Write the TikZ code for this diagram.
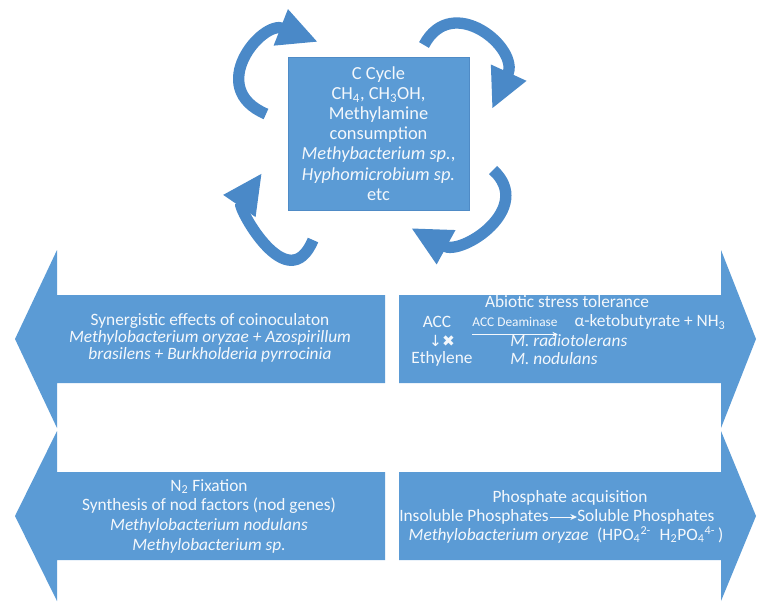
\documentclass[tikz,border=0pt]{standalone}
\usepackage{fontspec}
\setmainfont{Carlito}
\newfontfamily\symfont{DejaVu Sans}
\usetikzlibrary{arrows.meta}

\definecolor{boxblue}{HTML}{5B9BD5}
\definecolor{curlblue}{HTML}{4A89C8}
\definecolor{edgeblue}{HTML}{4F8BC6}
\definecolor{txtwhite}{HTML}{F4F8FC}

\tikzset{
  bigarrow/.style={fill=boxblue},
  curl/.style={draw=curlblue, line width=8.5pt, -{Triangle[length=30pt,width=27pt]}},
  lbl/.style={text=txtwhite, align=center, inner sep=0pt, font=\fontsize{13}{14.3}\selectfont},
  cbox/.style={draw=edgeblue, fill=boxblue, line width=0.6pt, minimum width=135.75pt, minimum height=114.75pt, text=txtwhite, align=center, inner sep=0pt, font=\fontsize{13.8}{15.1}\selectfont}
}

\begin{document}
\begin{tikzpicture}[x=0.75pt,y=-0.75pt]
\useasboundingbox (0,0) rectangle (759,601);

\fill[bigarrow] (385,295) -- (57,295) -- (57,250) -- (15,339) -- (57,428) -- (57,383) -- (385,383) -- cycle;
\fill[bigarrow] (385,472) -- (57,472) -- (57,431) -- (15,516) -- (57,601) -- (57,560) -- (385,560) -- cycle;
\fill[bigarrow] (399,295) -- (721,295) -- (721,250) -- (756,339) -- (721,428) -- (721,383) -- (399,383) -- cycle;
\fill[bigarrow] (399,472) -- (721,472) -- (721,431) -- (756,516) -- (721,601) -- (721,560) -- (399,560) -- cycle;

\node[cbox] (v1) at (378.5,133.5) {\rule{0pt}{5pt}C Cycle\\CH\textsubscript{4}, CH\textsubscript{3}OH,\\Methylamine\\consumption\\\textit{Methybacterium sp.},\\\textit{Hyphomicrobium sp.}\\etc};

\coordinate (t1) at (266,114);
\coordinate (h1) at (318,42);
\coordinate (t2) at (424,45);
\coordinate (h2) at (492,109);
\coordinate (t3) at (493,170);
\coordinate (h3) at (411,228);
\coordinate (t4) at (313,240);
\coordinate (h4) at (262,173);
\draw[curl] (t1) .. controls (205,88) and (262,20) .. (h1);
\draw[curl] (t2) .. controls (452,-8) and (520,48) .. (h2);
\draw[curl] (t3) .. controls (535,208) and (462,256) .. (h3);
\draw[curl] (t4) .. controls (288,300) and (238,208) .. (h4);

\node[lbl, font=\fontsize{13}{12.6}\selectfont] (v2) at (210,338) {Synergistic effects of coinoculaton\\\textit{Methylobacterium oryzae + Azospirillum}\\\textit{brasilens + Burkholderia pyrrocinia}};

\node[lbl] (v3) at (567,302) {Abiotic stress tolerance};
\node[lbl] (v4) at (437,322) {ACC};
\node[lbl, font=\fontsize{10}{11}\selectfont] (v5) at (515,322) {ACC Deaminase};
\node[lbl] (v6) at (650,322) {α-ketobutyrate + NH\textsubscript{3}};
\node[lbl, font=\fontsize{11.5}{13}\symfont] (v7) at (442,341) {↓✖};
\node[lbl, anchor=west] (v8) at (510,341) {\textit{M. radiotolerans}};
\node[lbl] (v9) at (442,359) {Ethylene};
\node[lbl, anchor=west] (v10) at (510,359) {\textit{M. nodulans}};
\draw[txtwhite, line width=0.5pt, -{Stealth[length=4pt,width=3.5pt]}] ([yshift=-5.5pt]v5.south west) -- ([yshift=-5.5pt]v5.south east);

\node[lbl, font=\fontsize{13}{14.8}\selectfont] (v11) at (209,516) {N\textsubscript{2} Fixation\\Synthesis of nod factors (nod genes)\\\textit{Methylobacterium nodulans}\\\textit{Methylobacterium sp.}};

\node[lbl] (v12) at (570,498) {Phosphate acquisition};
\node[lbl, anchor=east] (v13) at (549,517) {Insoluble Phosphates};
\node[lbl, anchor=west] (v14) at (577,517) {Soluble Phosphates};
\draw[txtwhite, line width=0.7pt, -{Stealth[length=5pt,width=4.5pt]}] ([xshift=1pt]v13.east) -- (v14.west);
\node[lbl] (v15) at (566,535) {\textit{Methylobacterium oryzae}\enspace(HPO\textsubscript{4}\textsuperscript{2-}\enspace H\textsubscript{2}PO\textsubscript{4}\textsuperscript{4-}\,)};

\end{tikzpicture}
\end{document}
